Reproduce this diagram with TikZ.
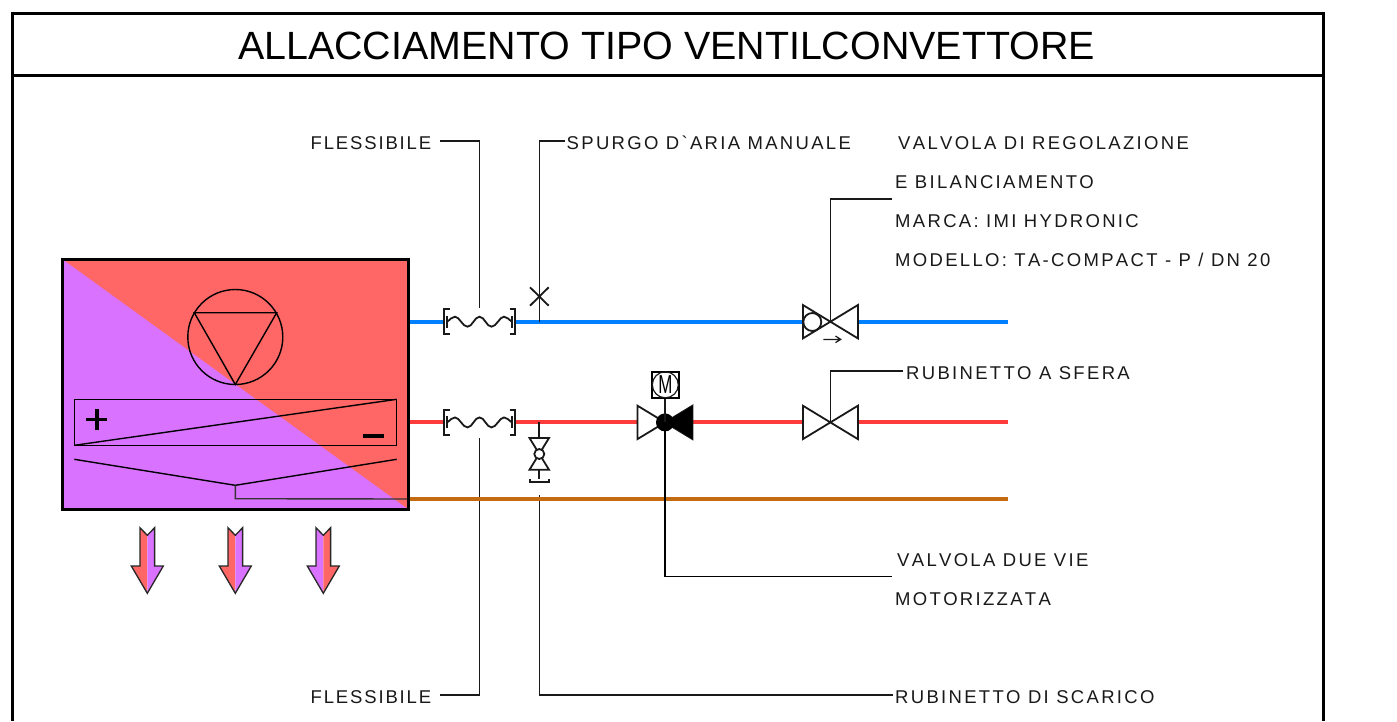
\documentclass[tikz,border=0pt]{standalone}
\usepackage{fontspec}
\setmainfont{Liberation Sans}
\newfontfamily\labfont[LetterSpace=12.5,Kerning=Off]{Liberation Sans}
\newfontfamily\flexfont[LetterSpace=10,Kerning=Off]{Liberation Sans}
\definecolor{warm}{HTML}{FF6666}
\definecolor{cool}{HTML}{D973FF}
\definecolor{bluepipe}{HTML}{0080FF}
\definecolor{redpipe}{HTML}{FF3C3C}
\definecolor{brownpipe}{HTML}{C46A10}
\tikzset{
  x=1pt,y=-1pt,
  frameline/.style={line width=3pt,black},
  thinline/.style={line width=1.4pt,black,line join=miter},
  leader/.style={line width=1.8pt,black!90},
  lab/.style={font=\labfont\fontsize{18.5}{20}\selectfont,anchor=base west,inner sep=0pt,text=black!90},
  flexlab/.style={font=\flexfont\fontsize{18.5}{20}\selectfont,anchor=base west,inner sep=0pt,text=black!90},
  pipe/.style={line width=3.6pt},
  sym/.style={line width=1.8pt,black!90,line join=miter},
  valvebody/.pic={\draw[sym,fill=white] (-27.5,-16.7) -- (27.5,16.7) -- (27.5,-16.7) -- (-27.5,16.7) -- cycle;},
  flexjoint/.pic={
    \draw[sym] (-30,-12.6) -- (-35.5,-12.6) -- (-35.5,12.6) -- (-30,12.6);
    \draw[sym] (30,-12.6) -- (35.5,-12.6) -- (35.5,12.6) -- (30,12.6);
    \draw[sym] (-32.5,-6) -- (-32.5,6) (32.5,-6) -- (32.5,6);
    \draw[sym] (-32.5,0) .. controls (-29,-2) and (-28,-5) .. (-24.5,-5)
      .. controls (-20,-5) and (-17,5) .. (-12,5)
      .. controls (-7,5) and (-5,-5) .. (0,-5)
      .. controls (5,-5) and (7,5) .. (12,5)
      .. controls (17,5) and (20,-5) .. (24.5,-5)
      .. controls (28,-5) and (29,-2) .. (32.5,0);
  },
}
\newcommand{\flowarrow}[3]{%
  \begin{scope}[shift={(#1,560.7)}]
    \fill[#2] (0,-25.4) -- (-7.3,-33) -- (-7.3,5.3) -- (-16,5.3) -- (0,32.6) -- cycle;
    \fill[#3] (0,-25.4) -- (7.3,-33) -- (7.3,5.3) -- (16,5.3) -- (0,32.6) -- cycle;
    \draw[line width=1.3pt,black!85,line join=miter] (0,-25.4) -- (-7.3,-33) -- (-7.3,5.3) -- (-16,5.3) -- (0,32.6) -- (16,5.3) -- (7.3,5.3) -- (7.3,-33) -- cycle;
  \end{scope}}
\begin{document}
\begin{tikzpicture}
\useasboundingbox (0,0) rectangle (1397,721);
% frame
\draw[frameline] (12,721) -- (12,13) -- (1323,13) -- (1323,721);
\draw[frameline] (12,75.5) -- (1323,75.5);
\node[inner sep=0pt,font=\fontsize{39.4}{44}\selectfont,anchor=base] (title) at (666.5,59) {ALLACCIAMENTO TIPO VENTILCONVETTORE};
% unit
\fill[warm] (62,259) rectangle (408.5,509.5);
\fill[cool] (62,259) -- (408.5,509.5) -- (62,509.5) -- cycle;
\coordinate (pump) at (235.3,337);
\draw[thinline] (pump) circle (47.5);
\draw[thinline] (194.3,312.7) -- (276.7,312.7) -- (235.3,384.5) -- cycle;
\draw[thinline] (74.3,399.3) rectangle (396.7,445.3);
\draw[thinline] (74.3,445.3) -- (396.7,399.3);
\draw[line width=3.6pt] (86.2,419.3) -- (107.2,419.3) (96.7,408.8) -- (96.7,429.8);
\draw[line width=3.6pt] (363.3,435.7) -- (384,435.7);
% leaders that pass under the drain pipe
\coordinate (lf1) at (440,141);
\coordinate (lf1b) at (479.5,141);
\coordinate (lf1c) at (479.5,308);
\coordinate (lf2) at (440,695);
\coordinate (lf2b) at (479.5,695);
\coordinate (lf2c) at (479.5,438);
\draw[leader] (lf1) -- (lf1b) -- (lf1c);
\draw[leader] (lf2) -- (lf2b) -- (lf2c);
\draw[leader] (539.5,495) -- (539.5,695) -- (893,695);
% pipes
\coordinate (unitB) at (408.5,321.7);
\coordinate (unitR) at (408.5,422.4);
\coordinate (unitD) at (408.5,499);
\coordinate (valveBin) at (803,321.7);
\coordinate (valveBout) at (858,321.7);
\coordinate (valveRin) at (803,422.4);
\coordinate (valveRout) at (858,422.4);
\coordinate (endB) at (1008,321.7);
\coordinate (endR) at (1008,422.4);
\coordinate (endD) at (1008,499);
\draw[pipe,bluepipe] (unitB) -- (valveBin) (valveBout) -- (endB);
\draw[pipe,redpipe,line width=4pt] (unitR) -- (valveRin) (valveRout) -- (endR);
\draw[pipe,brownpipe] (unitD) -- (endD);
\draw[thinline] (74.3,459.3) -- (235.3,485.3) -- (396.7,459.3);
\draw[thinline,black!80] (235.3,485.3) -- (235.3,498.7) -- (unitD);
\draw[line width=3pt,black] (62.5,259.8) rectangle (408.3,509.3);
\flowarrow{147.3}{warm}{cool}
\flowarrow{235.3}{warm}{cool}
\flowarrow{323.3}{cool}{warm}
% flex joints
\fill[white] (445,309) rectangle (514.5,334);
\fill[white] (445,410) rectangle (514.5,435);
\pic at (479.5,321.7) {flexjoint};
\pic at (479.5,422.4) {flexjoint};
% valves
\pic at (830.4,321.7) {valvebody};
\draw[sym,fill=white] (812.3,322) circle (9);
\draw[line width=1.2pt,black!90] (823.3,339.4) -- (840.5,339.4) (835.5,336) -- (840.7,339.4) -- (835.5,342.6);
\pic at (830.4,422.4) {valvebody};
\pic at (665,422.4) {valvebody};
\fill[black] (665,422.4) -- (692.7,405.7) -- (692.7,439.1) -- cycle;
\fill[black] (665,422.4) circle (9);
\draw[sym] (665,422.4) -- (665,398);
\draw[line width=1.8pt,fill=white] (652,371.7) rectangle (678.7,398);
\draw[sym,line width=1.2pt] (665.3,384.8) circle (13);
\node[inner sep=0pt,font=\fontsize{26}{26}\selectfont,anchor=center,xscale=0.65] (motor) at (665.3,385) {M};
% vent and drain
\coordinate (ventJ) at (539.5,321.7);
\coordinate (ventX) at (539.5,296.4);
\draw[sym] (530,287.3) -- (548.7,305.7) (548.7,287.3) -- (530,305.7);
\draw[sym,fill=white] (539.3,422.4) -- (539.3,438);
\draw[sym] (529.5,438) -- (549,438) -- (529.5,469.7) -- (549,469.7) -- cycle;
\draw[sym,fill=white] (539.3,454) circle (5);
\draw[sym] (539.3,469.7) -- (539.3,479);
\draw[sym] (530,479) -- (530,481.7) -- (549,481.7) -- (549,479);
% labels
\node[flexlab] (flexT) at (310.5,149) {FLESSIBILE};
\node[flexlab] (flexB) at (310.5,703) {FLESSIBILE};
\node[lab] (spurgo) at (566.5,149) {SPURGO D`ARIA MANUALE};
\node[lab] (reg1) at (898,149) {VALVOLA DI REGOLAZIONE};
\node[lab] (reg2) at (895,188.3) {E BILANCIAMENTO};
\node[lab] (reg3) at (895,227.3) {MARCA: IMI HYDRONIC};
\node[lab] (reg4) at (895,266.7) {MODELLO: TA-COMPACT - P / DN 20};
\node[lab] (sfera) at (906,379) {RUBINETTO A SFERA};
\node[lab] (due1) at (897,566) {VALVOLA DUE VIE};
\node[lab] (due2) at (895,605) {MOTORIZZATA};
\node[lab] (scarico) at (895,703) {RUBINETTO DI SCARICO};
% leaders on top
\draw[leader] (565,141) -- (539.5,141) -- (ventJ);
\draw[leader] (892,199) -- (830.4,199) -- (830.4,321.7);
\draw[leader] (903,371) -- (830.4,371) -- (830.4,422.4);
\draw[leader,black] (665,422.4) -- (665,576.5) -- (892,576.5);
\end{tikzpicture}
\end{document}
